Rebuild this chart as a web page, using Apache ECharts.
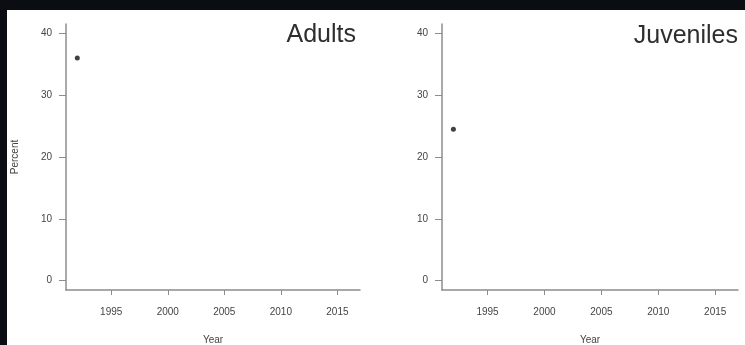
<!DOCTYPE html>
<html>
<head>
    <meta charset="utf-8">
    <title>Adults / Juveniles</title>
    <script src="https://cdn.jsdelivr.net/npm/echarts@6/dist/echarts.min.js"></script>
    <style>
        html, body { margin: 0; padding: 0; background: #fff; }
        #main { width: 745px; height: 345px; }
    </style>
</head>
<body>
<div id="main"></div>
<script type="text/javascript">
    // ---- data ----
    var years = [1992];
    var adults = [36];
    var juveniles = [24.5];
    var yearTicks = [1995, 2000, 2005, 2010, 2015];
    var percentTicks = [0, 10, 20, 30, 40];
    var panelTitles = ['Adults', 'Juveniles'];

    var chart = echarts.init(document.getElementById('main'));

    function pairs(ys) {
        return years.map(function (y, i) { return [y, ys[i]]; });
    }

    var axisGray = '#8c8c8c';
    var labelStyle = { fontSize: 10, color: '#444', fontFamily: 'Liberation Sans' };

    function xAxis(idx) {
        return {
            type: 'value', gridIndex: idx, min: 1991, max: 2017,
            name: 'Year', nameLocation: 'middle', nameGap: 45,
            nameTextStyle: { fontSize: 10, color: '#444', fontFamily: 'Liberation Sans' },
            axisLine: { show: true, onZero: false, lineStyle: { color: axisGray, width: 1.5 } },
            axisTick: { show: true, length: 5, customValues: yearTicks, lineStyle: { color: axisGray } },
            axisLabel: Object.assign({
                margin: 17, customValues: yearTicks,
                formatter: function (v) { return String(v); }
            }, labelStyle),
            splitLine: { show: false }
        };
    }

    function yAxis(idx, withName) {
        return {
            type: 'value', gridIndex: idx, min: -1.5, max: 41.5,
            name: withName ? 'Percent' : '',
            nameLocation: 'middle', nameGap: 46,
            nameTextStyle: { fontSize: 10, color: '#444', fontFamily: 'Liberation Sans' },
            axisLine: { show: true, onZero: false, lineStyle: { color: axisGray, width: 1.5 } },
            axisTick: { show: true, length: 7, customValues: percentTicks, lineStyle: { color: axisGray } },
            axisLabel: Object.assign({ margin: 14, customValues: percentTicks }, labelStyle),
            splitLine: { show: false }
        };
    }

    var titleStyle = { fontSize: 25, fontWeight: 'normal', color: '#2e2e2e', fontFamily: 'Liberation Sans' };

    var option = {
        backgroundColor: '#fff',
        animation: false,
        title: [{
            text: panelTitles[0], right: 389, top: 23, padding: 0, textStyle: titleStyle
        }, {
            text: panelTitles[1], right: 7, top: 24, padding: 0, textStyle: titleStyle
        }],
        graphic: [
            // dark frame of the photographed slide
            { type: 'rect', shape: { x: 0, y: 0, width: 745, height: 10 }, style: { fill: '#0a0d12' }, z: 100 },
            { type: 'rect', shape: { x: 0, y: 0, width: 7, height: 345 }, style: { fill: '#0a0d12' }, z: 100 }
        ],
        grid: [
            { left: 66, top: 24, width: 294, height: 266, outerBoundsMode: 'none' },
            { left: 442, top: 24, width: 296, height: 266, outerBoundsMode: 'none' }
        ],
        xAxis: [xAxis(0), xAxis(1)],
        yAxis: [yAxis(0, true), yAxis(1, false)],
        series: [{
            name: 'Adults', type: 'scatter', xAxisIndex: 0, yAxisIndex: 0,
            symbolSize: 5, itemStyle: { color: '#111' },
            data: pairs(adults)
        }, {
            name: 'Juveniles', type: 'scatter', xAxisIndex: 1, yAxisIndex: 1,
            symbolSize: 5, itemStyle: { color: '#111' },
            data: pairs(juveniles)
        }]
    };

    chart.setOption(option);
</script>
</body>
</html>
